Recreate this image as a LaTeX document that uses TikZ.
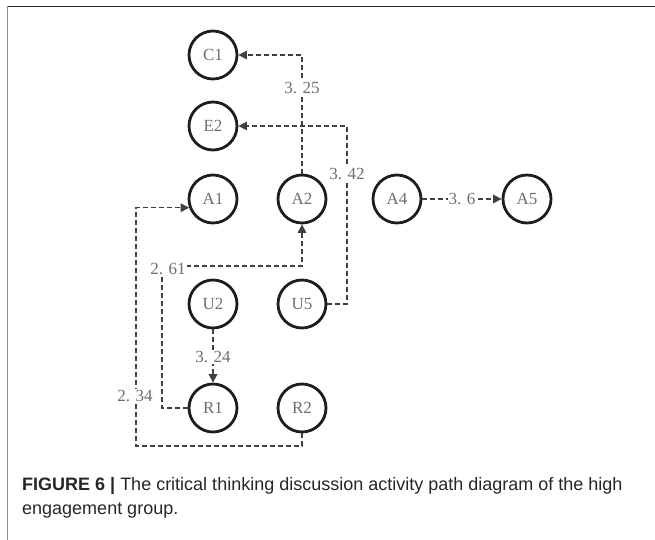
\documentclass[tikz,border=0pt]{standalone}
\usepackage{fontspec}
\setmainfont{Liberation Serif}
\newfontfamily\capfont{Liberation Sans}
\usetikzlibrary{arrows.meta}
\definecolor{ringcol}{HTML}{1E1E1E}
\definecolor{linecol}{HTML}{404040}
\definecolor{txtcol}{HTML}{6E6E6E}
\tikzset{
  state/.style={circle, draw=ringcol, line width=2.8pt, minimum size=48pt,
    inner sep=0pt, text=txtcol, font=\fontsize{17}{17}\selectfont},
  edge/.style={draw=linecol, line width=1.5pt, dash pattern=on 5pt off 3pt,
    -{Triangle[length=8.5pt,width=8.5pt]}},
  weight/.style={fill=white, inner sep=1pt, text=txtcol,
    font=\fontsize{17}{17}\selectfont}
}
\begin{document}
\begin{tikzpicture}[x=1pt, y=-1pt]
  \useasboundingbox (0,0) rectangle (655,540);
  % frame
  \draw[line width=1.8pt, draw=black!85] (7,6.5) -- (655,6.5);
  \draw[line width=1.6pt, draw=black!45] (7.5,6) -- (7.5,540);

  % states
  \node[state] (C1) at (213,55) {C1};
  \node[state] (E2) at (213,126) {E2};
  \node[state] (A1) at (213,199) {A1};
  \node[state] (A2) at (302,199) {A2};
  \node[state] (A4) at (397,199) {A4};
  \node[state] (A5) at (527,199) {A5};
  \node[state] (U2) at (213,304) {U2};
  \node[state] (U5) at (302,304) {U5};
  \node[state] (R1) at (213,408) {R1};
  \node[state] (R2) at (302,408) {R2};

  % bend points
  \coordinate (u5r) at (347,304);
  \coordinate (r1c) at (162,266);
  \coordinate (r2c) at (136,446);

  % transitions
  \draw[edge] (A2.north) |- node[weight, pos=0.36] (w325) {3. 25} (C1.east);
  \draw[edge] (U5.east) -- (u5r) |- node[weight, pos=0.365] (w342) {3. 42} (E2.east);
  \draw[edge] (R1.west) -| (r1c) -| (A2.south);
  \node[weight] (w261) at (168,269) {2. 61};
  \draw[edge] (R2.south) |- (r2c) |- (A1.200);
  \node[weight] (w234) at (135,396) {2. 34};
  \draw[edge] (U2.south) -- node[weight, pos=0.52] (w324) {3. 24} (R1.north);
  \draw[edge] (A4.east) -- node[weight] (w36) {3. 6} (A5.west);

  % caption
  \node[anchor=base west, align=left, inner sep=0pt, text=black!85,
        font=\capfont\fontsize{18}{23.5}\selectfont] (caption) at (22,514)
    {\textbf{FIGURE 6 |} The critical thinking discussion activity path diagram of the high\\
     engagement group.};
\end{tikzpicture}
\end{document}
